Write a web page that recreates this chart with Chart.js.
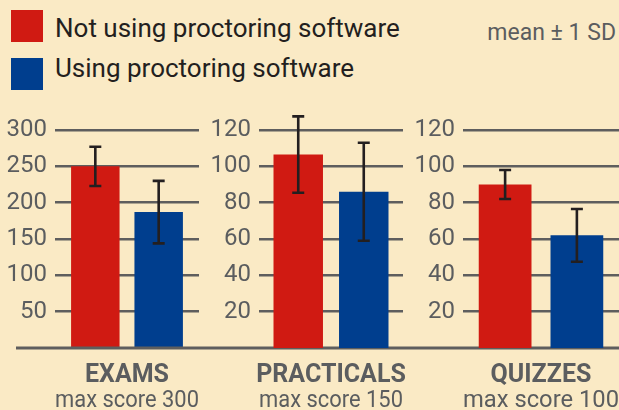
<!DOCTYPE html>
<html>
<head>
<meta charset="utf-8">
<script src="https://cdn.jsdelivr.net/npm/chart.js@4/dist/chart.umd.min.js"></script>
<style>
  html, body { margin: 0; padding: 0; background: #faeac5; }
  #wrap { position: relative; width: 619px; height: 410px; overflow: hidden; background: #faeac5; font-family: Roboto, sans-serif; }
  #wrap canvas { position: absolute; left: 0; top: 0; }
  .swatch { position: absolute; left: 11px; width: 32px; height: 32px; }
  .legtext { position: absolute; left: 55px; font-size: 26px; line-height: 26px; color: #231f20; white-space: nowrap; }
  #note { position: absolute; right: 3px; top: 21px; font-size: 23px; line-height: 23px; color: #5b5d5f; white-space: nowrap; }
</style>
</head>
<body>
<div id="wrap">
  <div id="note">mean ± 1 SD</div>
</div>
<script>
// Score summaries by assessment type
const categories   = ['EXAMS', 'PRACTICALS', 'QUIZZES'];
const maxScores    = [300, 150, 100];
const seriesNames  = ['Not using proctoring software', 'Using proctoring software'];
const notUsingMean = [250, 106.5, 90];
const notUsingSD   = [27, 21, 8];
const usingMean    = [187, 86, 62];
const usingSD      = [43, 27, 14.5];
const axisMax      = [300, 120, 120];
const axisStep     = [50, 20, 20];

const RED = '#d01a12';
const BLUE = '#003e8e';
const GREY = '#5b5d5f';
const GRID = '#5e5e5e';
const seriesColors = [RED, BLUE];

const wrap = document.getElementById('wrap');

// legend
const swatchTops = [10, 58];
const textTops = [14.5, 55];
seriesNames.forEach((name, i) => {
  const sw = document.createElement('div');
  sw.className = 'swatch';
  sw.style.top = swatchTops[i] + 'px';
  sw.style.background = seriesColors[i];
  wrap.appendChild(sw);
  const tx = document.createElement('div');
  tx.className = 'legtext';
  tx.style.top = textTops[i] + 'px';
  tx.textContent = name;
  wrap.appendChild(tx);
});

// whiskers of ±1 SD on each bar
const errorBars = {
  id: 'errorBars',
  afterDatasetsDraw(chart) {
    const ctx = chart.ctx, y = chart.scales.y;
    ctx.save();
    ctx.strokeStyle = '#231f20';
    ctx.lineWidth = 2.6;
    chart.data.datasets.forEach((ds, di) => {
      chart.getDatasetMeta(di).data.forEach((bar, j) => {
        const m = ds.data[j], s = ds.sd[j];
        const yt = y.getPixelForValue(m + s), yb = y.getPixelForValue(m - s);
        ctx.beginPath();
        ctx.moveTo(bar.x, yt); ctx.lineTo(bar.x, yb);
        ctx.moveTo(bar.x - 6, yt); ctx.lineTo(bar.x + 6, yt);
        ctx.moveTo(bar.x - 6, yb); ctx.lineTo(bar.x + 6, yb);
        ctx.stroke();
      });
    });
    ctx.restore();
  }
};

// shared floor line under all three panels
const floorLine = {
  id: 'floorLine',
  afterDatasetsDraw(chart, args, opts) {
    if (!opts.show) return;
    const ctx = chart.ctx;
    const y0 = chart.scales.y.getPixelForValue(0);
    ctx.save();
    ctx.strokeStyle = GRID;
    ctx.lineWidth = 3;
    ctx.beginPath();
    ctx.moveTo(opts.from, y0);
    ctx.lineTo(chart.width, y0);
    ctx.stroke();
    ctx.restore();
  }
};

const padLeft  = [0, 204, 408];
const padRight = [420, 216, 0];
const catPct   = [0.88, 0.91, 0.92];
const barPct   = [0.765, 0.755, 0.735];

categories.forEach((cat, i) => {
  const cv = document.createElement('canvas');
  cv.width = 619; cv.height = 410;
  cv.style.width = '619px'; cv.style.height = '410px';
  wrap.appendChild(cv);
  new Chart(cv.getContext('2d'), {
    type: 'bar',
    data: {
      labels: [cat],
      datasets: [
        { label: seriesNames[0], data: [notUsingMean[i]], sd: [notUsingSD[i]], backgroundColor: RED },
        { label: seriesNames[1], data: [usingMean[i]], sd: [usingSD[i]], backgroundColor: BLUE }
      ]
    },
    options: {
      responsive: false,
      animation: false,
      devicePixelRatio: 1,
      categoryPercentage: catPct[i],
      barPercentage: barPct[i],
      layout: { padding: { left: padLeft[i], right: padRight[i], top: 130, bottom: 0 } },
      plugins: {
        legend: { display: false },
        tooltip: { enabled: false },
        floorLine: { show: i === 0, from: 16 }
      },
      scales: {
        x: {
          grid: { display: false, drawTicks: false },
          border: { display: false },
          ticks: { color: GREY, padding: 13, font: { family: 'Roboto', size: 25, weight: 'bold' } },
          title: {
            display: true,
            text: 'max score ' + maxScores[i],
            color: GREY,
            font: { family: 'Roboto', size: 24.5, lineHeight: 1 },
            padding: { top: 0, bottom: -3 }
          },
          afterFit(s) { s.height = 62; }
        },
        y: {
          min: 0,
          max: axisMax[i],
          border: { display: false },
          grid: { color: GRID, lineWidth: 2.5, drawTicks: false },
          ticks: {
            stepSize: axisStep[i],
            color: GREY,
            padding: 8,
            font: { family: 'Roboto', size: 24 },
            callback: v => (v === 0 ? null : v)
          },
          afterFit(s) { s.width = 55; }
        }
      }
    },
    plugins: [errorBars, floorLine]
  });
});
</script>
</body>
</html>
